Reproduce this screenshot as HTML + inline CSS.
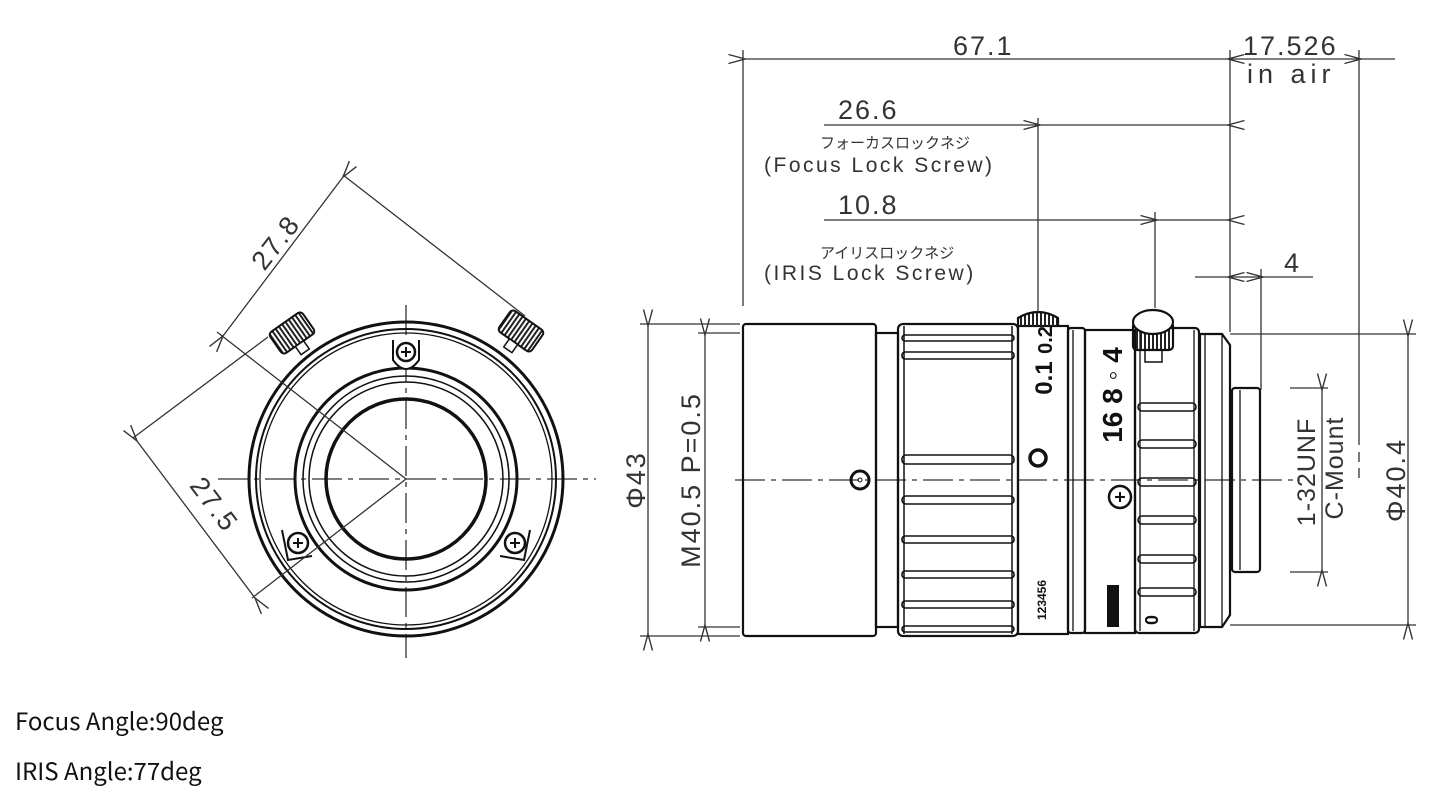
<!DOCTYPE html>
<html><head><meta charset="utf-8"><style>
html,body{margin:0;padding:0;background:#fff;width:1445px;height:800px;overflow:hidden}
svg{position:absolute;left:0;top:0}
.t{font-family:"Liberation Sans","Noto Sans CJK JP",sans-serif;fill:#333}
.b{position:absolute;left:15px;font-family:"Noto Sans CJK JP","Liberation Sans",sans-serif;font-size:24px;color:#111}
</style></head><body>
<svg width="1445" height="800" viewBox="0 0 1445 800">
<defs>
<marker id="a" markerWidth="20" markerHeight="12" refX="0.5" refY="6" orient="auto-start-reverse" markerUnits="userSpaceOnUse">
<path d="M17,1.5 L0.5,6 L17,10.5" fill="none" stroke="#333" stroke-width="1.4"/></marker>
<pattern id="h" width="4" height="4" patternUnits="userSpaceOnUse"><rect width="2" height="4" fill="#222"/></pattern>
</defs>
<g fill="none" stroke="#333" stroke-width="1.3">
<!-- FRONT VIEW -->
<line x1="406" y1="305" x2="406" y2="658" stroke-dasharray="30,6,5,6"/>
<line x1="218" y1="479" x2="596" y2="479" stroke-dasharray="30,6,5,6"/>
<g stroke="#111">
<circle cx="406" cy="479" r="157" stroke-width="3"/>
<circle cx="406" cy="479" r="150" stroke-width="2"/>
<circle cx="406" cy="479" r="146" stroke-width="1.3"/>
<circle cx="406" cy="479" r="111" stroke-width="3"/>
<circle cx="406" cy="479" r="103" stroke-width="1.5"/>
<circle cx="406" cy="479" r="97" stroke-width="1.5"/>
<circle cx="406" cy="479" r="80" stroke-width="3.5"/>
<path d="M393,340 L393,360 Q406,378 419,360 L419,340" stroke-width="2" fill="#fff"/>
<circle cx="406" cy="352" r="9" stroke-width="2.5" fill="#fff"/>
<path d="M401,352h10M406,347v10" stroke-width="2"/>
<circle cx="298" cy="543" r="10" stroke-width="2.5" fill="#fff"/>
<path d="M293,543h10M298,538v10" stroke-width="2"/>
<path d="M282,530 L288,560 L312,556" stroke-width="2"/>
<circle cx="515" cy="543" r="10" stroke-width="2.5" fill="#fff"/>
<path d="M510,543h10M515,538v10" stroke-width="2"/>
<path d="M530,530 L524,560 L500,556" stroke-width="2"/>
<g transform="translate(292,333) rotate(-35)"><rect x="-20" y="-13" width="40" height="26" rx="4" fill="url(#h)" stroke-width="2"/><rect x="-5" y="13" width="10" height="10" fill="#fff" stroke-width="1.5"/></g>
<g transform="translate(521,331) rotate(35)"><rect x="-20" y="-13" width="40" height="26" rx="4" fill="url(#h)" stroke-width="2"/><rect x="-5" y="13" width="10" height="10" fill="#fff" stroke-width="1.5"/></g>
</g>
<line x1="343" y1="175" x2="525" y2="316"/>
<line x1="217" y1="332" x2="406" y2="479"/>
<line x1="223" y1="336" x2="343" y2="177" marker-start="url(#a)" marker-end="url(#a)"/>
<line x1="133" y1="438" x2="268" y2="337"/>
<line x1="252" y1="598" x2="406" y2="479"/>
<line x1="137" y1="441" x2="255" y2="598" marker-start="url(#a)" marker-end="url(#a)"/>

<!-- SIDE VIEW -->
<line x1="735" y1="480" x2="1300" y2="480" stroke-dasharray="30,6,5,6"/>
<g stroke="#111" stroke-width="2.2">
<rect x="743" y="324" width="133" height="312" rx="3"/>
<rect x="876" y="333" width="22" height="294"/>
<rect x="898" y="324" width="120" height="312" rx="5"/>
<line x1="904" y1="326" x2="904" y2="634" stroke-width="1.5"/>
<line x1="1012" y1="326" x2="1012" y2="634" stroke-width="1.5"/>
<g stroke-width="1.6">
<rect x="902" y="335" width="112" height="6" rx="3"/>
<rect x="902" y="352" width="112" height="7" rx="3"/>
<rect x="902" y="455" width="112" height="9" rx="4"/>
<rect x="902" y="496" width="112" height="8" rx="4"/>
<rect x="902" y="536" width="112" height="7" rx="3"/>
<rect x="902" y="571" width="112" height="7" rx="3"/>
<rect x="902" y="601" width="112" height="7" rx="3"/>
<rect x="902" y="626" width="112" height="6" rx="3"/>
</g>
<rect x="1018" y="326" width="50" height="308"/>
<rect x="1068" y="328" width="17" height="305" rx="3"/>
<line x1="1073" y1="330" x2="1073" y2="631" stroke-width="1.3"/>
<rect x="1085" y="330" width="50" height="303"/>
<rect x="1135" y="328" width="64" height="305" rx="4"/>
<line x1="1140" y1="330" x2="1140" y2="631" stroke-width="1.3"/>
<line x1="1194" y1="330" x2="1194" y2="631" stroke-width="1.3"/>
<g stroke-width="1.6">
<rect x="1138" y="403" width="58" height="8" rx="4"/>
<rect x="1138" y="440" width="58" height="8" rx="4"/>
<rect x="1138" y="478" width="58" height="8" rx="4"/>
<rect x="1138" y="516" width="58" height="8" rx="4"/>
<rect x="1138" y="555" width="58" height="8" rx="4"/>
<rect x="1138" y="588" width="58" height="8" rx="4"/>
</g>
<path d="M1200,334 L1222,334 L1230,345 L1230,615 L1222,627 L1200,627 Z"/>
<line x1="1205" y1="334" x2="1205" y2="627" stroke-width="1.3"/>
<line x1="1222" y1="334" x2="1222" y2="627" stroke-width="1.3"/>
<rect x="1232" y="388" width="28" height="184" rx="3"/>
<line x1="1240" y1="390" x2="1240" y2="570" stroke-width="1.3"/>
<path d="M1018,326 L1018,318 Q1038,306 1058,318 L1058,326" fill="url(#h)"/>
<rect x="1133" y="322" width="40" height="28" rx="4" fill="url(#h)"/>
<ellipse cx="1153" cy="322" rx="20" ry="12" fill="#fff"/>
<path d="M1145,350 L1145,362 L1162,362 L1162,350" stroke-width="1.5"/>
<circle cx="860" cy="480" r="9" stroke-width="3"/>
<circle cx="860" cy="480" r="2" stroke-width="1"/>
<circle cx="1038" cy="458" r="8" stroke-width="3.5"/>
<circle cx="1120" cy="497" r="11" stroke-width="2.5"/>
<path d="M1115,497h10M1120,492v10" stroke-width="2"/>
</g>
<rect x="1107" y="585" width="12" height="42" fill="#111" stroke="none"/>

<line x1="743" y1="50" x2="743" y2="306"/>
<line x1="1230" y1="50" x2="1230" y2="332"/>
<line x1="1359" y1="50" x2="1359" y2="445"/>
<line x1="1359" y1="452" x2="1359" y2="462"/>
<line x1="1359" y1="468" x2="1359" y2="478"/>
<line x1="745" y1="59" x2="1228" y2="59" marker-start="url(#a)" marker-end="url(#a)"/>
<line x1="1230" y1="59" x2="1359" y2="59"/>
<line x1="1361" y1="59" x2="1395" y2="59" marker-start="url(#a)"/>
<line x1="824" y1="125" x2="1038" y2="125"/>
<line x1="1040" y1="125" x2="1228" y2="125" marker-start="url(#a)" marker-end="url(#a)"/>
<line x1="1038" y1="118" x2="1038" y2="312"/>
<line x1="824" y1="220" x2="1155" y2="220"/>
<line x1="1157" y1="220" x2="1228" y2="220" marker-start="url(#a)" marker-end="url(#a)"/>
<line x1="1155" y1="212" x2="1155" y2="308"/>
<line x1="1195" y1="277" x2="1228" y2="277" marker-end="url(#a)"/>
<line x1="1230" y1="277" x2="1261" y2="277"/>
<line x1="1263" y1="277" x2="1313" y2="277" marker-start="url(#a)"/>
<line x1="1261" y1="269" x2="1261" y2="390"/>
<line x1="640" y1="324" x2="740" y2="324"/>
<line x1="640" y1="636" x2="740" y2="636"/>
<line x1="648" y1="326" x2="648" y2="634" marker-start="url(#a)" marker-end="url(#a)"/>
<line x1="698" y1="333" x2="740" y2="333"/>
<line x1="698" y1="627" x2="740" y2="627"/>
<line x1="705" y1="335" x2="705" y2="625" marker-start="url(#a)" marker-end="url(#a)"/>
<line x1="1230" y1="334" x2="1416" y2="334"/>
<line x1="1230" y1="625" x2="1416" y2="625"/>
<line x1="1408" y1="336" x2="1408" y2="623" marker-start="url(#a)" marker-end="url(#a)"/>
<line x1="1290" y1="388" x2="1328" y2="388"/>
<line x1="1290" y1="572" x2="1328" y2="572"/>
<line x1="1322" y1="390" x2="1322" y2="570" marker-start="url(#a)" marker-end="url(#a)"/>
</g>

<g class="t" font-size="27" letter-spacing="2">
<text x="953" y="55">67.1</text>
<text x="1243" y="55">17.526</text>
<text x="1247" y="83" letter-spacing="5">in air</text>
<text x="838" y="119">26.6</text>
<text x="838" y="214">10.8</text>
<text x="1284" y="272">4</text>
<text transform="translate(283,248) rotate(-52)" text-anchor="middle">27.8</text>
<text transform="translate(207,510) rotate(53)" text-anchor="middle">27.5</text>
<text transform="translate(645,480) rotate(-90)" text-anchor="middle">Φ43</text>
<text transform="translate(700,480) rotate(-90)" text-anchor="middle">M40.5 P=0.5</text>
<text transform="translate(1405,480) rotate(-90)" text-anchor="middle">Φ40.4</text>
<text transform="translate(1315,472) rotate(-90)" text-anchor="middle" font-size="25" letter-spacing="1">1-32UNF</text>
<text transform="translate(1343,468) rotate(-90)" text-anchor="middle" font-size="25" letter-spacing="1">C-Mount</text>
</g>
<g class="t" font-size="21" letter-spacing="2.5">
<text x="764" y="172">(Focus Lock Screw)</text>
<text x="764" y="280">(IRIS Lock Screw)</text>
</g>
<g class="t" font-size="15">
<text x="820" y="148">フォーカスロックネジ</text>
<text x="820" y="258">アイリスロックネジ</text>
</g>
<g font-family="Liberation Sans Narrow,Liberation Sans,sans-serif" font-weight="bold" fill="#111">
<text transform="translate(1052,378) rotate(-90)" font-size="24" text-anchor="middle">0.1</text>
<text transform="translate(1052,340) rotate(-90)" font-size="20" text-anchor="middle">0.2</text>
<text transform="translate(1122,395) rotate(-90)" font-size="28" text-anchor="middle">16 8 ◦ 4</text>
<text transform="translate(1046,600) rotate(-90)" font-size="12" text-anchor="middle">123456</text>
<text transform="translate(1158,620) rotate(-90)" font-size="18" text-anchor="middle">0</text>
</g>
</svg>
<div class="b" style="top:702px">Focus Angle:90deg</div>
<div class="b" style="top:752px">IRIS Angle:77deg</div>
</body></html>
